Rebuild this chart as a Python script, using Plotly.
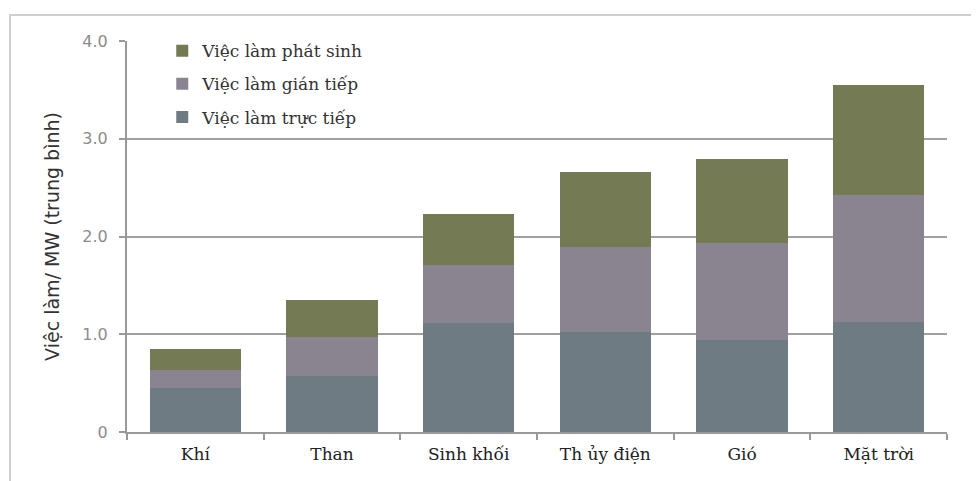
import plotly.graph_objects as go

categories = ["Khí", "Than", "Sinh khối", "Th ủy điện", "Gió", "Mặt trời"]
direct = [0.45, 0.57, 1.12, 1.02, 0.94, 1.13]
indirect = [0.18, 0.40, 0.59, 0.87, 0.99, 1.29]
induced = [0.22, 0.38, 0.52, 0.77, 0.86, 1.13]
series_names = ["Việc làm trực tiếp", "Việc làm gián tiếp", "Việc làm phát sinh"]
series_colors = ["#6e7b82", "#8a8491", "#747a53"]
tick_vals = [0, 1, 2, 3, 4]
tick_text = ["0", "1.0", "2.0", "3.0", "4.0"]

fig = go.Figure()
for i, (name, vals, col) in enumerate(zip(series_names, [direct, indirect, induced], series_colors)):
    fig.add_trace(go.Bar(x=categories, y=vals, name=name, marker=dict(color=col, line=dict(width=0)),
                         legendgroup=str(i), legendrank=1000 - i))

fig.update_layout(
    width=971, height=473,
    barmode="stack", bargap=0.33,
    plot_bgcolor="white", paper_bgcolor="white",
    margin=dict(l=119, r=32, t=33, b=49),
    font=dict(family="DejaVu Serif", color="#222"),
    legend=dict(x=0.043, y=1.02, xanchor="left", yanchor="top", traceorder="grouped",
                tracegroupgap=8, font=dict(size=17, color="#333", family="DejaVu Serif"),
                bgcolor="rgba(0,0,0,0)"),
    xaxis=dict(showline=True, linecolor="#999", linewidth=2, ticks="outside", tickson="boundaries",
               ticklen=6, tickcolor="#999", tickwidth=2, ticklabelstandoff=6,
               tickfont=dict(family="DejaVu Serif", size=17, color="#222")),
    yaxis=dict(range=[0, 4], tickvals=tick_vals, ticktext=tick_text, showgrid=True, gridcolor="#a0a0a0",
               gridwidth=2, showline=True, linecolor="#999", linewidth=2, ticks="outside", ticklen=6,
               tickcolor="#999", tickwidth=2, zeroline=False, ticklabelstandoff=8,
               tickfont=dict(family="DejaVu Sans", size=16, color="#8c8c8c"),
               title=dict(text="Việc làm/ MW (trung bình)", standoff=18,
                          font=dict(family="DejaVu Sans", size=19, color="#333"))),
    shapes=[dict(type="rect", xref="paper", yref="paper", x0=-0.1427, x1=1.06, y0=-0.3, y1=1.0665,
                 line=dict(color="#cfcfcf", width=2), layer="below")],
)

fig.write_html("out.html")
